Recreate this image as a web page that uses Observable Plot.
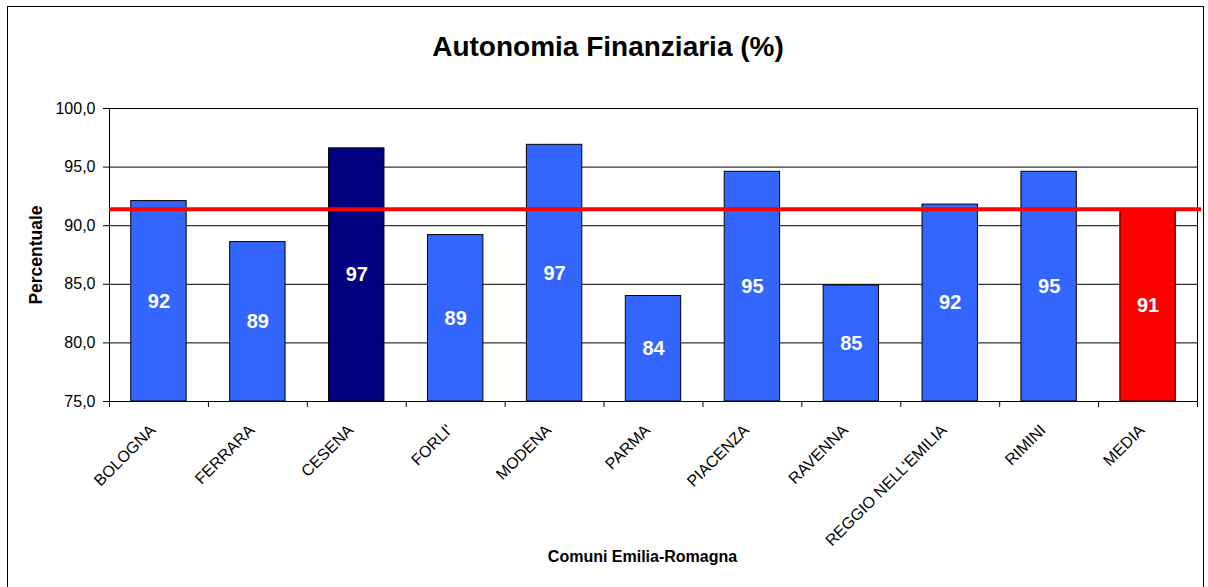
<!DOCTYPE html>
<html>
<head>
<meta charset="utf-8">
<script src="https://cdn.jsdelivr.net/npm/d3@7"></script>
<script src="https://cdn.jsdelivr.net/npm/@observablehq/plot@0.6"></script>
<style>
  html, body { margin: 0; padding: 0; overflow: hidden; background: #fff; }
  #wrap { position: relative; width: 1208px; height: 587px; font-family: "Liberation Sans", Arial, sans-serif; }
  #border { position: absolute; left: 7px; top: 6px; width: 1197px; height: 700px; border: 1px solid #000; box-sizing: border-box; }
  #title { position: absolute; left: 358px; width: 500px; top: 31px; line-height: 32px; text-align: center; font-size: 28px; font-weight: bold; color: #000; }
  #chart { position: absolute; left: 0; top: 0; }
</style>
</head>
<body>
<div id="wrap">
  <div id="border"></div>
  <div id="chart"></div>
  <div id="title">Autonomia Finanziaria (%)</div>
</div>
<script>
const categories = ["BOLOGNA", "FERRARA", "CESENA", "FORLI'", "MODENA", "PARMA", "PIACENZA", "RAVENNA", "REGGIO NELL'EMILIA", "RIMINI", "MEDIA"];
const values = [92.1, 88.6, 96.6, 89.2, 96.9, 84.0, 94.6, 84.9, 91.8, 94.6, 91.4];
const groups = ["comune", "comune", "evidenziato", "comune", "comune", "comune", "comune", "comune", "comune", "comune", "media"];
const averageValue = 91.4;
const yTicks = [75, 80, 85, 90, 95, 100];
const yTitle = "Percentuale";
const xTitle = "Comuni Emilia-Romagna";

const data = categories.map((name, i) => ({name, value: values[i], group: groups[i]}));
const yMin = yTicks[0];

const W = 1208, H = 587;
const mL = 109, mR = 11, mT = 108, mB = 186;
const plotW = W - mL - mR, plotH = H - mT - mB;
const step = plotW / categories.length;
const font = "Liberation Sans, Arial, sans-serif";

const chart = Plot.plot({
  width: W,
  height: H,
  marginLeft: mL,
  marginRight: mR,
  marginTop: mT,
  marginBottom: mB,
  style: {fontFamily: font, color: "#000", background: "transparent"},
  x: {type: "band", domain: categories, paddingInner: 0.44, paddingOuter: 0.22, round: false, axis: null},
  y: {domain: [yTicks[0], yTicks[yTicks.length - 1]], axis: null},
  color: {domain: ["comune", "evidenziato", "media"], range: ["#3366FF", "#000080", "#FF0000"]},
  marks: [
    Plot.ruleY(yTicks, {stroke: "#000", strokeWidth: 1}),
    Plot.frame({stroke: "#000", strokeWidth: 1}),
    Plot.axisY({ticks: yTicks, tickSize: 6, tickPadding: 8, fontSize: 16, tickFormat: d => d.toFixed(1).replace(".", ","), label: null}),
    Plot.ruleX(categories, {x: d => d, dx: -step / 2, insetTop: plotH, insetBottom: -6, stroke: "#000"}),
    Plot.ruleX(categories.slice(-1), {x: d => d, dx: step / 2, insetTop: plotH, insetBottom: -6, stroke: "#000"}),
    Plot.barY(data, {x: "name", y1: yMin, y2: "value", fill: "group", stroke: "#000", strokeWidth: 1}),
    Plot.ruleY([averageValue], {stroke: "#FF0000", strokeWidth: 4, insetRight: -4}),
    Plot.text(data, {x: "name", y: d => (yMin + d.value) / 2, text: d => d3.format(".0f")(d.value), fill: "#fff", fontWeight: "bold", fontSize: 20}),
    Plot.text(categories, {x: d => d, frameAnchor: "bottom", dx: -6, dy: 26, rotate: -45, textAnchor: "end", lineAnchor: "middle", fontSize: 16, fill: "#000"}),
    Plot.text([yTitle], {frameAnchor: "left", dx: -73, rotate: -90, textAnchor: "middle", lineAnchor: "middle", fontWeight: "bold", fontSize: 17.5, fill: "#000"}),
    Plot.text([xTitle], {frameAnchor: "bottom", dx: -11, dy: 160, textAnchor: "middle", fontWeight: "bold", fontSize: 16, fill: "#000"})
  ]
});
document.getElementById("chart").appendChild(chart);
</script>
</body>
</html>
